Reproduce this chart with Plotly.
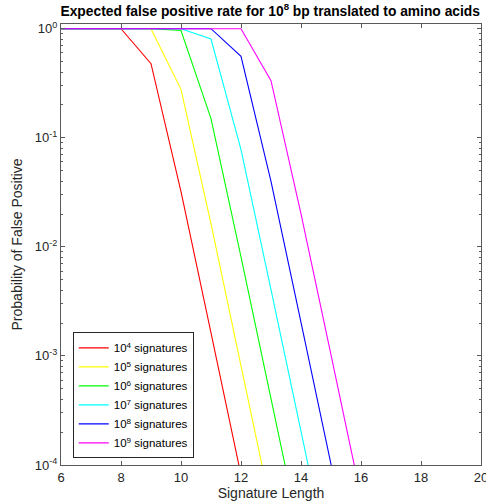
import plotly.graph_objects as go

# signature length (x) and probability of a false positive for each signature count
sig_counts = ['10<sup>4</sup> signatures', '10<sup>5</sup> signatures', '10<sup>6</sup> signatures',
              '10<sup>7</sup> signatures', '10<sup>8</sup> signatures', '10<sup>9</sup> signatures']

x_e4 = [6, 7, 8, 9, 10, 11, 12]
p_e4 = [1, 1, 1, 0.478, 0.0321, 1.63e-3, 8.1e-5]

x_e5 = [6, 7, 8, 9, 10, 11, 12, 13]
p_e5 = [1, 1, 1, 0.9985, 0.278, 0.0162, 8.1e-4, 4.07e-5]

x_e6 = [6, 7, 8, 9, 10, 11, 12, 13, 14]
p_e6 = [1, 1, 1, 1, 0.962, 0.150, 8.1e-3, 4.07e-4, 2.03e-5]

x_e7 = [6, 7, 8, 9, 10, 11, 12, 13, 14, 15]
p_e7 = [1, 1, 1, 1, 1, 0.804, 0.078, 4.06e-3, 2.03e-4, 1.02e-5]

x_e8 = [6, 7, 8, 9, 10, 11, 12, 13, 14, 15, 16]
p_e8 = [1, 1, 1, 1, 1, 1, 0.557, 0.0399, 2.03e-3, 1.02e-4, 5.1e-6]

x_e9 = [6, 7, 8, 9, 10, 11, 12, 13, 14, 15, 16]
p_e9 = [1, 1, 1, 1, 1, 1, 0.9997, 0.334, 0.0201, 1.02e-3, 5.1e-5]

colors = ['#ff0000', '#ffff00', '#00ff00', '#00ffff', '#0000ff', '#ff00ff']

y_ticks = [1e-4, 1e-3, 1e-2, 1e-1, 1]
y_ticktext = ['10<sup>-4</sup>', '10<sup>-3</sup>', '10<sup>-2</sup>', '10<sup>-1</sup>', '10<sup>0</sup>']
y_minor = [m * 10 ** e for e in (-4, -3, -2, -1) for m in range(2, 10)]
x_ticks = [6, 8, 10, 12, 14, 16, 18, 20]

series = [(x_e4, p_e4), (x_e5, p_e5), (x_e6, p_e6), (x_e7, p_e7), (x_e8, p_e8), (x_e9, p_e9)]

fig = go.Figure()
for (xs, ps), name, col in zip(series, sig_counts, colors):
    fig.add_trace(go.Scatter(x=xs, y=ps, mode='lines', name=name,
                             line=dict(color=col, width=1.1)))

# invisible helper trace so the minor-tick axis gets drawn
fig.add_trace(go.Scatter(x=x_e4, y=p_e4, yaxis='y2', mode='lines', opacity=0,
                         showlegend=False, hoverinfo='skip'))

axis_col = '#5a5a5a'
text_col = '#262626'
fig.update_layout(
    width=486, height=503,
    paper_bgcolor='white', plot_bgcolor='white',
    margin=dict(l=61, r=5, t=24, b=38),
    font=dict(family='Liberation Sans, Arial, sans-serif', size=13, color=text_col),
    title=dict(text='<b>Expected false positive rate for 10<sup>8</sup> bp translated to amino acids</b>',
               x=0.556, xanchor='center', y=0.988, yanchor='top',
               font=dict(size=13.8, color='black')),
    legend=dict(x=0.028, y=0.015, xanchor='left', yanchor='bottom',
                bordercolor=text_col, borderwidth=1, bgcolor='white',
                font=dict(size=11.5, color='black'), tracegroupgap=0, itemwidth=30),
    showlegend=True,
    xaxis=dict(
        range=[6, 20], tickvals=x_ticks, ticks='inside', ticklen=4, tickcolor=axis_col,
        ticklabeloverflow='allow',
        showline=True, linecolor=axis_col, linewidth=1, mirror='ticks',
        showgrid=False, zeroline=False, automargin=False,
        title=dict(text='Signature Length', standoff=3, font=dict(size=14)),
    ),
    yaxis=dict(
        type='log', range=[-4, 0.043], tickvals=y_ticks, ticktext=y_ticktext,
        ticks='inside', ticklen=4, tickcolor=axis_col,
        showline=True, linecolor=axis_col, linewidth=1, mirror='ticks',
        showgrid=False, zeroline=False, automargin=False,
        title=dict(text='Probability of False Positive', standoff=8, font=dict(size=14)),
    ),
    yaxis2=dict(
        type='log', range=[-4, 0.043], overlaying='y', side='left',
        tickvals=y_minor, ticks='inside', ticklen=2, tickcolor=axis_col,
        showticklabels=False, showline=False, mirror='ticks',
        showgrid=False, zeroline=False, automargin=False,
    ),
)

fig.write_html("out.html", config={'displayModeBar': False},
               post_script="document.body.style.margin='0px';")
